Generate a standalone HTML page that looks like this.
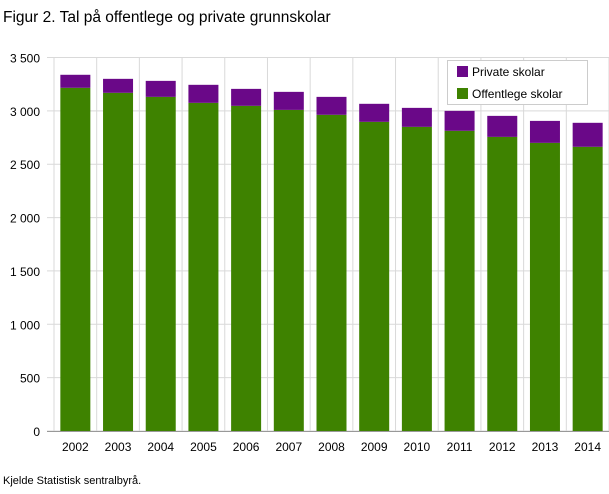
<!DOCTYPE html>
<html><head><meta charset="utf-8"><style>
body{margin:0;background:#fff;font-family:"Liberation Sans",sans-serif;}
svg text{font-family:"Liberation Sans",sans-serif;}
</style></head><body>
<svg id="c" width="609" height="489">
<text x="3" y="22" font-size="15.5" fill="#000">Figur 2. Tal på offentlege og private grunnskolar</text>
<text x="3" y="484" font-size="11" fill="#000">Kjelde Statistisk sentralbyrå.</text>
</svg>
<script>
const years=["2002","2003","2004","2005","2006","2007","2008","2009","2010","2011","2012","2013","2014"];
const publicSchools=[3216,3169,3131,3075,3047,3009,2963,2897,2850,2813,2756,2700,2663];
const privateSchools=[122,131,150,169,159,169,168,169,178,187,197,206,225];
const yTicks=[0,500,1000,1500,2000,2500,3000,3500];
const yTickLabels=["0","500","1 000","1 500","2 000","2 500","3 000","3 500"];
const NS="http://www.w3.org/2000/svg",svg=document.getElementById('c');
const L=54,R=609,T=57.5,B=431,yMax=3500;
const y=v=>B-(B-T)*v/yMax;
const band=(R-L)/years.length;
const x=i=>L+band*i;
function mk(t,a,p){const e=document.createElementNS(NS,t);for(const k in a)e.setAttribute(k,a[k]);(p||svg).appendChild(e);return e;}
yTicks.forEach((v,i)=>{
 const g=mk('line',{x1:47,x2:R,y1:y(v),y2:y(v),stroke:'#d9d9d9','stroke-width':1});
 
 
 const t=mk('text',{x:40,y:y(v)+5,'text-anchor':'end','font-size':12,fill:'#000'});
 t.textContent=yTickLabels[i];
 
 
});
for(let i=0;i<=years.length;i++){
 const g=mk('line',{x1:x(i),x2:x(i),y1:T,y2:B,stroke:'#d9d9d9','stroke-width':1});
 
 
}
const bw=30;
years.forEach((yr,i)=>{
 const cx=x(i)+band/2;
 const p=mk('rect',{x:cx-bw/2,y:y(publicSchools[i]),width:bw,height:B-y(publicSchools[i]),fill:'#3e8200'});
 
 
 const tot=publicSchools[i]+privateSchools[i];
 const q=mk('rect',{x:cx-bw/2,y:y(tot),width:bw,height:y(publicSchools[i])-y(tot),fill:'#6a0888'});
 
 
 const t=mk('text',{x:cx,y:451,'text-anchor':'middle','font-size':12,fill:'#000'});
 t.textContent=yr;
 
 
});
const ax=mk('line',{x1:47,x2:R,y1:B+0.5,y2:B+0.5,stroke:'#999','stroke-width':1});


const lg=mk('g',{});


mk('rect',{x:447.5,y:60.5,width:140,height:44,fill:'#fff',stroke:'#ccc'},lg);
[["Private skolar","#6a0888",66],["Offentlege skolar","#3e8200",88]].forEach(([n,c,yy])=>{
 const e=mk('g',{},lg);
 
 
 mk('rect',{x:457,y:yy,width:11,height:11,fill:c},e);
 const t=mk('text',{x:472,y:yy+10,'font-size':12,fill:'#000'},e);t.textContent=n;
});
</script>
</body></html>
